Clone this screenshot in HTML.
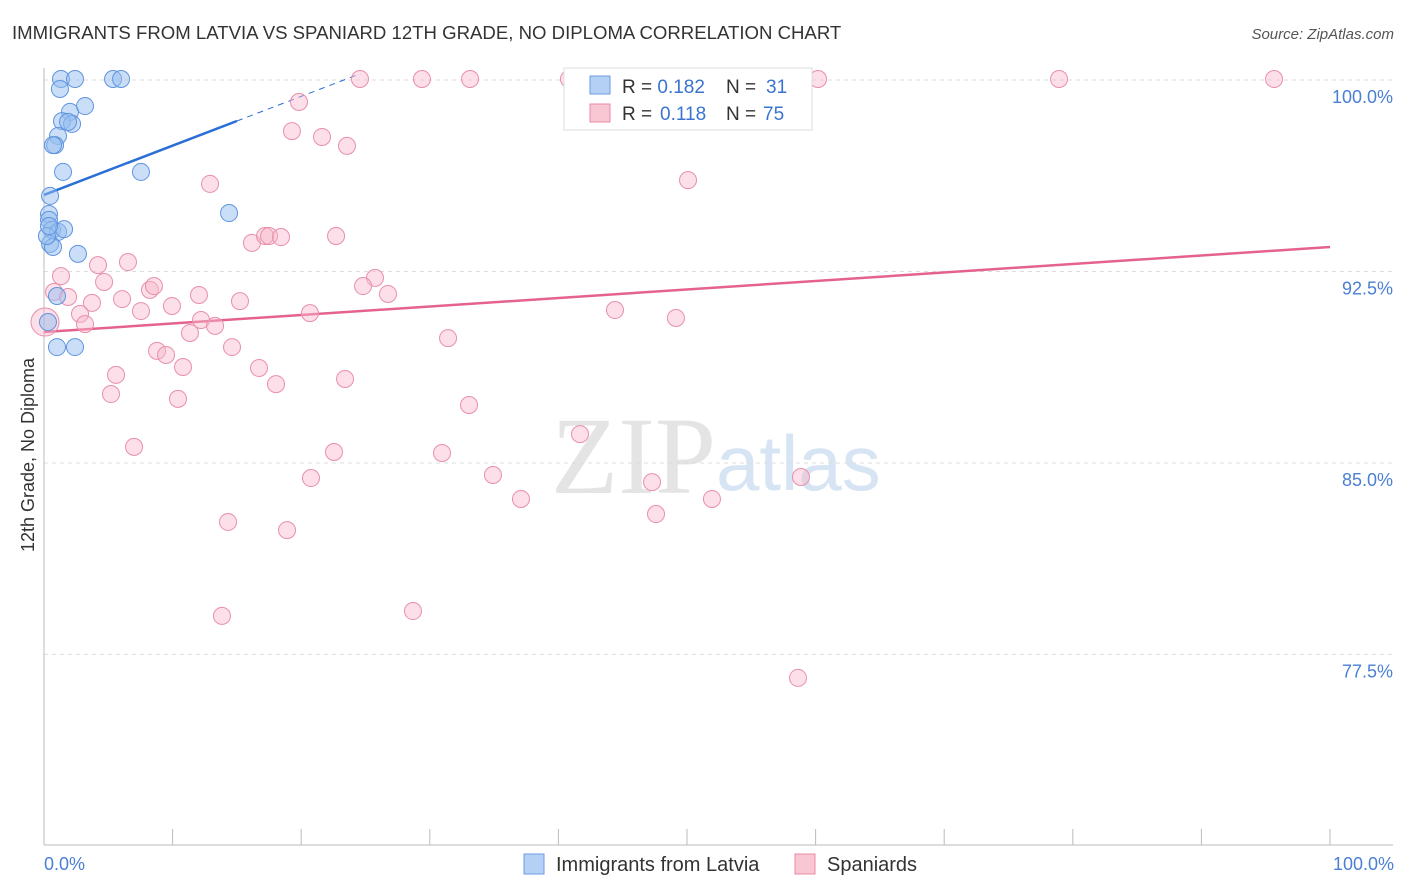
<!DOCTYPE html>
<html><head><meta charset="utf-8"><style>
body{margin:0;background:#fff;font-family:"Liberation Sans",sans-serif;}
svg{display:block}
</style></head><body>
<svg id="chart" width="1406" height="892" xmlns="http://www.w3.org/2000/svg">
<text x="12" y="39" font-size="18.6" fill="#333">IMMIGRANTS FROM LATVIA VS SPANIARD 12TH GRADE, NO DIPLOMA CORRELATION CHART</text>
<text x="1394" y="39" font-size="15" fill="#555" text-anchor="end" font-style="italic">Source: ZipAtlas.com</text>
<text x="716" y="493" font-size="110" fill="#e4e4e4" text-anchor="end" font-family="Liberation Serif">ZIP</text>
<text x="716" y="490" font-size="78" fill="#d6e4f4">atlas</text>
<g id="grid"></g><g id="axes"></g><g id="trends"></g><g id="points"></g>
<text transform="translate(34,455) rotate(-90)" font-size="18" fill="#333" text-anchor="middle">12th Grade, No Diploma</text>
<text x="44" y="870" font-size="18" fill="#4a7fd4">0.0%</text>
<text x="1394" y="870" font-size="18" fill="#4a7fd4" text-anchor="end">100.0%</text>
<g>
<rect x="564" y="68" width="248" height="62" fill="#fff" stroke="#ddd"/>
<rect x="590" y="76" width="20" height="18" fill="#b5d0f5" stroke="#6a9be0"/>
<rect x="590" y="104" width="20" height="18" fill="#f9c6d4" stroke="#e88aa5"/>
<text x="622" y="93" font-size="19" fill="#333">R = <tspan fill="#3a74d0">0.182</tspan><tspan x="726">N = </tspan><tspan x="766" fill="#3a74d0">31</tspan></text>
<text x="622" y="120" font-size="19" fill="#333">R = <tspan x="660" fill="#3a74d0">0.118</tspan><tspan x="726">N = </tspan><tspan x="763" fill="#3a74d0">75</tspan></text>
</g>
<g>
<rect x="524" y="854" width="20" height="20" fill="#b5d0f5" stroke="#6a9be0"/>
<text x="556" y="871" font-size="20" fill="#333">Immigrants from Latvia</text>
<rect x="795" y="854" width="20" height="20" fill="#f9c6d4" stroke="#e88aa5"/>
<text x="827" y="871" font-size="20" fill="#333">Spaniards</text>
</g>
</svg>
<script>
const yTicks=[100,92.5,85,77.5];
const yTickLabels=["100.0%","92.5%","85.0%","77.5%"];
const xTicks=[10,20,30,40,50,60,70,80,90,100];
const blueX=[1.32,2.41,5.37,5.99,1.24,2.02,3.19,1.40,2.18,1.87,1.09,0.86,0.70,1.48,0.47,0.39,0.39,0.62,1.09,1.56,0.47,0.70,2.64,7.54,14.39,1.01,1.01,2.41,0.31,0.23,0.39];
const blueY=[100,100,100,100,99.61,98.71,98.94,98.35,98.24,98.32,97.77,97.41,97.41,96.36,95.42,94.71,94.48,94.09,94.01,94.12,93.54,93.42,93.15,96.36,94.75,91.50,89.50,89.50,90.48,93.85,94.24];
const pinkX=[24.57,29.39,33.13,40.82,45.33,49.46,60.19,78.93,95.65,19.83,19.28,21.62,23.56,12.91,50.08,16.17,17.19,17.50,18.43,22.71,4.20,6.53,1.32,4.67,25.74,24.81,26.75,0.78,1.87,3.73,6.07,8.24,8.55,9.95,12.05,15.24,7.54,2.80,3.19,12.21,13.30,20.68,44.40,49.14,11.35,31.42,14.62,8.79,9.49,10.81,16.72,5.60,18.04,23.41,5.21,10.42,33.05,41.68,7.00,22.55,30.95,34.91,20.76,47.28,58.86,37.09,51.94,47.59,14.31,18.90,28.69,13.84,58.63,0.08];
const pinkY=[100,100,100,100,100,100,100,100,100,99.10,97.96,97.73,97.38,95.89,96.04,93.58,93.85,93.85,93.81,93.85,92.71,92.83,92.28,92.05,92.21,91.89,91.58,91.66,91.46,91.23,91.38,91.74,91.89,91.11,91.54,91.30,90.91,90.80,90.40,90.56,90.33,90.83,90.95,90.64,90.05,89.85,89.50,89.35,89.19,88.72,88.68,88.41,88.05,88.25,87.66,87.47,87.23,86.09,85.59,85.39,85.35,84.49,84.37,84.21,84.41,83.55,83.55,82.96,82.65,82.33,79.16,78.97,76.54,90.48];
const blueTrend=[95.46,0.193];
const pinkTrend=[90.09,0.0333];
const X0=44,X1=1330,Y0=79,YS=25.53;
const sx=v=>X0+(X1-X0)*v/100;
const sy=v=>Y0+(100-v)*YS;
const NS="http://www.w3.org/2000/svg";
function mk(tag,attrs,parent){const e=document.createElementNS(NS,tag);for(const k in attrs)e.setAttribute(k,attrs[k]);document.getElementById(parent).appendChild(e);return e;}
yTicks.forEach((t,i)=>{
 const g=mk('line',{x1:X0,x2:1393,y1:sy(t)+1,y2:sy(t)+1,stroke:'#ddd','stroke-dasharray':'4,4'},'grid');
 
 
 const l=mk('text',{x:1393,y:sy(t)+24,'font-size':18,fill:'#4a7fd4','text-anchor':'end'},'grid');
 l.textContent=yTickLabels[i];
 
 
});
const ya=mk('line',{x1:X0,x2:X0,y1:68,y2:845,stroke:'#bbb'},'axes');


const xa=mk('line',{x1:X0,x2:1393,y1:845,y2:845,stroke:'#bbb'},'axes');


xTicks.forEach(t=>{
 const k=mk('line',{x1:sx(t),x2:sx(t),y1:829,y2:845,stroke:'#bbb'},'axes');
 
 
});
function dot(x,y,fill,stroke,name,r){
 const c=mk('circle',{cx:sx(x),cy:sy(y),r:r||8.5,fill:fill,stroke:stroke,'stroke-width':1},'points');
 
 
}
pinkX.forEach((x,i)=>dot(x,pinkY[i],'rgba(248,185,205,0.45)','#e890aa','spaniard-point',i===pinkX.length-1?14:8.5));
blueX.forEach((x,i)=>dot(x,blueY[i],'rgba(150,190,240,0.5)','#5f94df','latvia-point'));
const bEnd=15,bDash=24.6;
const b1=mk('line',{x1:sx(0),y1:sy(blueTrend[0]),x2:sx(bEnd),y2:sy(blueTrend[0]+blueTrend[1]*bEnd),stroke:'#2a6fd6','stroke-width':2.5},'trends');


const b2=mk('line',{x1:sx(bEnd),y1:sy(blueTrend[0]+blueTrend[1]*bEnd),x2:sx(bDash),y2:sy(blueTrend[0]+blueTrend[1]*bDash),stroke:'#2a6fd6','stroke-width':1,'stroke-dasharray':'6,5'},'trends');


const p1=mk('line',{x1:sx(0),y1:sy(pinkTrend[0]),x2:sx(100),y2:sy(pinkTrend[0]+pinkTrend[1]*100),stroke:'#e5628c','stroke-width':2.5},'trends');


</script>
</body></html>
